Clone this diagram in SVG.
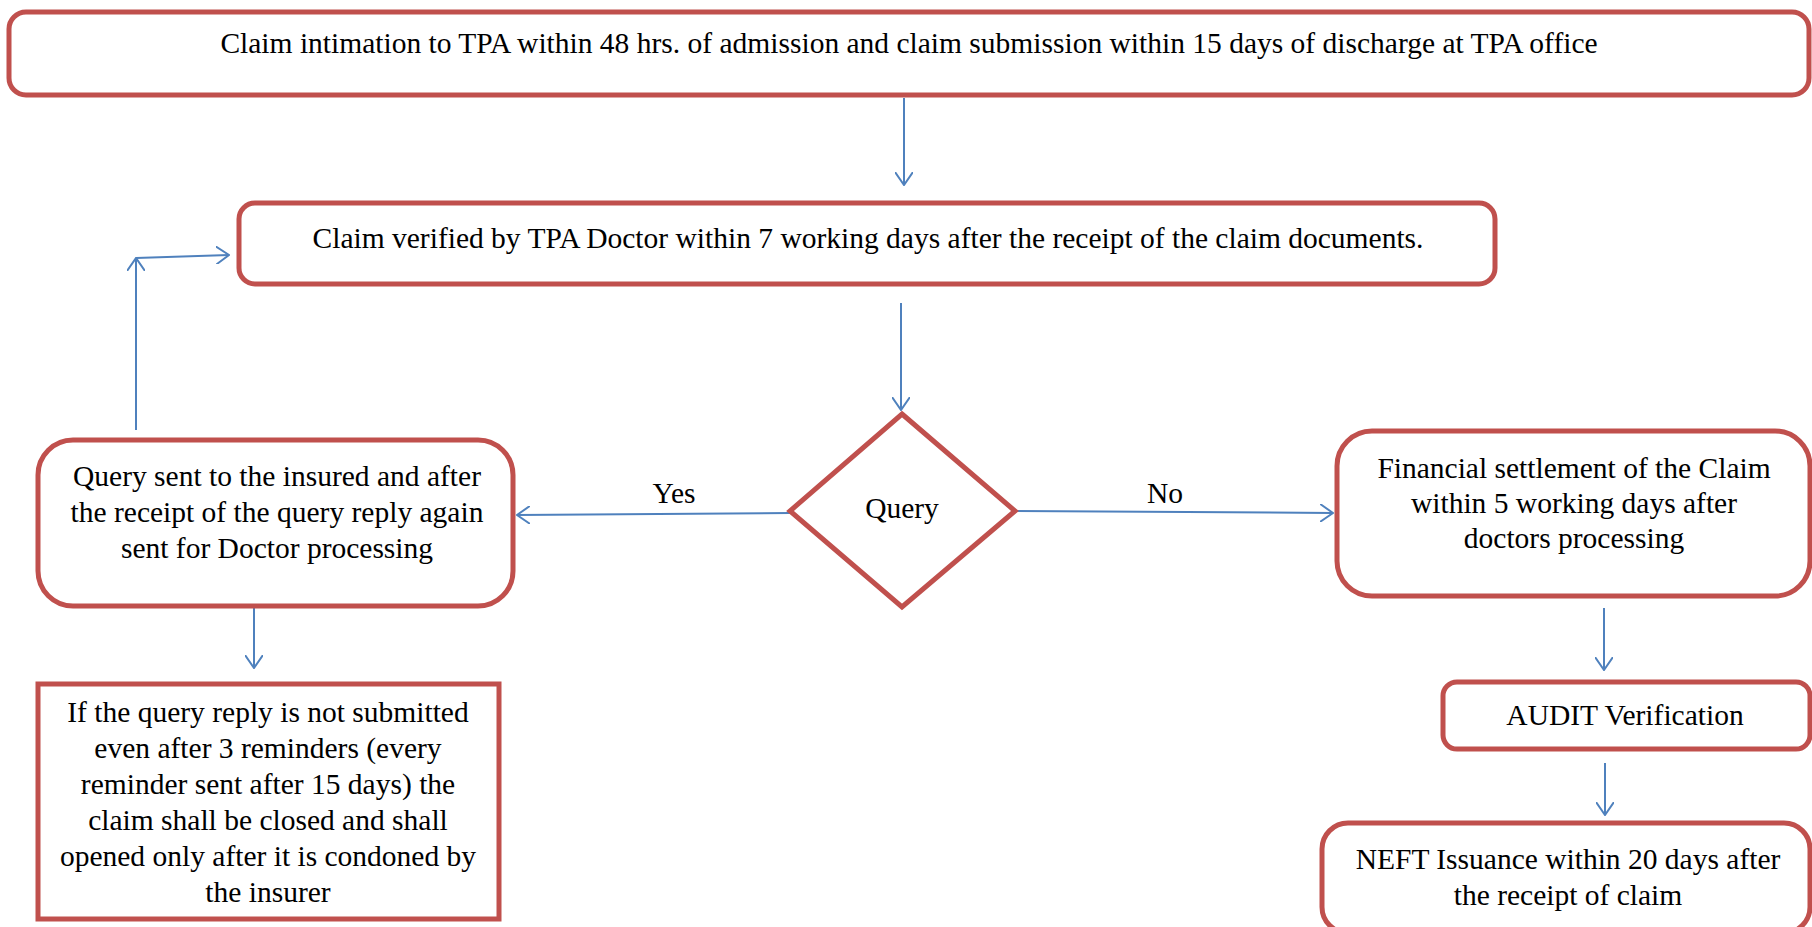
<svg xmlns="http://www.w3.org/2000/svg" width="1812" height="927" viewBox="0 0 1812 927">
<style>
.box{fill:#fff;stroke:#C0504D;stroke-width:5}
.t{font-family:'Liberation Serif','Times New Roman',serif;font-size:29.5px;fill:#000;text-anchor:middle}
.c{fill:none;stroke:#4F81BD;stroke-width:2}
</style>
<defs>
<marker id="ah" viewBox="0 0 14 18" refX="13" refY="9" markerWidth="14" markerHeight="18" markerUnits="userSpaceOnUse" orient="auto">
<path d="M0,0 L13,9 L0,18" fill="none" stroke="#4F81BD" stroke-width="2"/>
</marker>
</defs>
<rect width="1812" height="927" fill="#fff"/>
<g id="connectors">
<line class="c" x1="904" y1="98" x2="904" y2="185" marker-end="url(#ah)"/>
<line class="c" x1="901" y1="303" x2="901" y2="410" marker-end="url(#ah)"/>
<line class="c" x1="136" y1="430" x2="136" y2="258" marker-end="url(#ah)"/>
<line class="c" x1="136" y1="258" x2="229" y2="255" marker-end="url(#ah)"/>
<line class="c" x1="790" y1="513" x2="517" y2="515" marker-end="url(#ah)"/>
<line class="c" x1="1015" y1="511" x2="1333" y2="513" marker-end="url(#ah)"/>
<line class="c" x1="254" y1="606" x2="254" y2="668" marker-end="url(#ah)"/>
<line class="c" x1="1604" y1="608" x2="1604" y2="670" marker-end="url(#ah)"/>
<line class="c" x1="1605" y1="763" x2="1605" y2="815" marker-end="url(#ah)"/>
<text class="t" x="674" y="503">Yes</text>
<text class="t" x="1165" y="503">No</text>
</g>
<g id="n1">
<rect class="box" x="9" y="12" width="1800" height="83" rx="17"/>
<text class="t" x="909" y="53">Claim intimation to TPA within 48 hrs. of admission and claim submission within 15 days of discharge at TPA office</text>
</g>
<g id="n2">
<rect class="box" x="239" y="203" width="1256" height="81" rx="16"/>
<text class="t" x="868" y="248">Claim verified by TPA Doctor within 7 working days after the receipt of the claim documents.</text>
</g>
<g id="n3">
<polygon class="box" points="902,414 1015,511 902,607 790,511" stroke-width="6"/>
<text class="t" x="902" y="518">Query</text>
</g>
<g id="n4">
<rect class="box" x="38" y="440" width="475" height="166" rx="35"/>
<text class="t" x="277" y="486">Query sent to the insured and after</text>
<text class="t" x="277" y="522">the receipt of the query reply again</text>
<text class="t" x="277" y="558">sent for Doctor processing</text>
</g>
<g id="n5">
<rect class="box" x="38" y="684" width="461" height="235"/>
<text class="t" x="268" y="722">If the query reply is not submitted</text>
<text class="t" x="268" y="758">even after 3 reminders (every</text>
<text class="t" x="268" y="794">reminder sent after 15 days) the</text>
<text class="t" x="268" y="830">claim shall be closed and shall</text>
<text class="t" x="268" y="866">opened only after it is condoned by</text>
<text class="t" x="268" y="902">the insurer</text>
</g>
<g id="n6">
<rect class="box" x="1337" y="431" width="473" height="165" rx="35"/>
<text class="t" x="1574" y="478">Financial settlement of the Claim</text>
<text class="t" x="1574" y="513">within 5 working days after</text>
<text class="t" x="1574" y="548">doctors processing</text>
</g>
<g id="n7">
<rect class="box" x="1443" y="682" width="367" height="67" rx="14"/>
<text class="t" x="1625" y="725">AUDIT Verification</text>
</g>
<g id="n8">
<rect class="box" x="1322" y="823" width="488" height="110" rx="26"/>
<text class="t" x="1568" y="869">NEFT Issuance within 20 days after</text>
<text class="t" x="1568" y="905">the receipt of claim</text>
</g>
</svg>
